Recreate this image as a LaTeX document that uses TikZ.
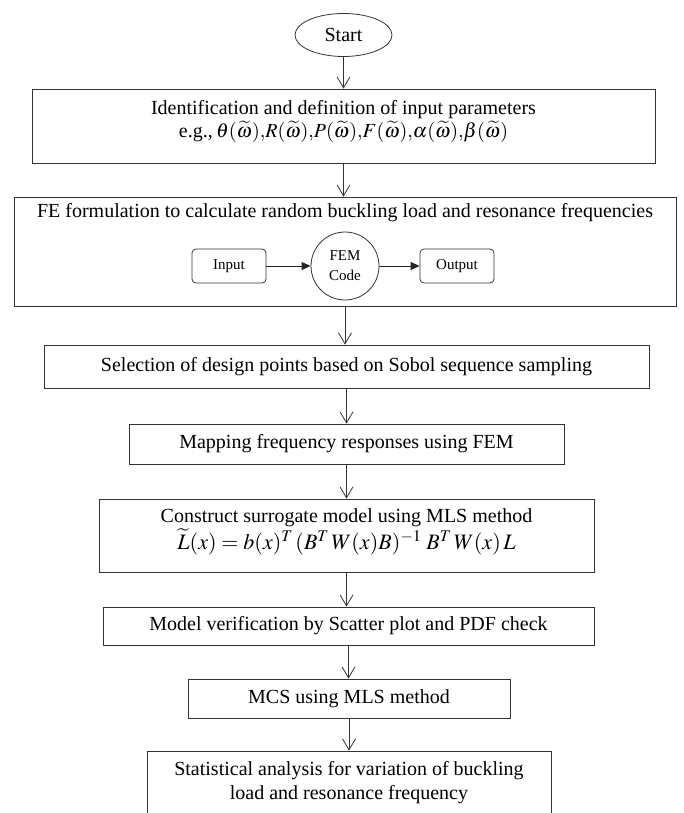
\documentclass[tikz,border=0pt]{standalone}
\usepackage{mathptmx}
\usepackage{fontspec}
\setmainfont{Liberation Serif}
\usetikzlibrary{arrows.meta,shapes.geometric}

\begin{document}
\begin{tikzpicture}[x=1pt,y=-1pt,
  box/.style={draw=black!80, line width=0.8pt, inner sep=0pt, anchor=center},
  lbl/.style={inner sep=0pt, font=\fontsize{20}{22}\selectfont, align=center},
  arr/.style={draw=black!80, line width=0.8pt, -{Straight Barb[length=11pt,width=13pt,line width=0.8pt]}},
  small/.style={draw=black!80, line width=0.8pt, rounded corners=4pt, minimum width=74pt, minimum height=34pt, inner sep=0pt, font=\fontsize{15}{16}\selectfont},
  tri/.style={draw=black!85, line width=0.9pt, -{Triangle[length=9pt,width=8pt]}}
]
\useasboundingbox (0,0) rectangle (683,813);
\clip (0,0) rectangle (683,813);

\node[box, ellipse, minimum width=97pt, minimum height=43pt, font=\fontsize{20}{24}\selectfont] (start) at (343.5,35) {Start};

\node[box, minimum width=623pt, minimum height=74pt] (b1) at (343.5,126) {};
\node[lbl] (b1t) at (343.5,121) {Identification and definition of input parameters\\[1pt]
e.g.,\,$\theta(\widetilde{\omega}){,}R(\widetilde{\omega}){,}P(\widetilde{\omega}){,}F(\widetilde{\omega}){,}\alpha(\widetilde{\omega}){,}\beta(\widetilde{\omega})$};

\node[box, minimum width=662pt, minimum height=109pt] (b2) at (345,251.5) {};
\node[lbl] (b2t) at (345,213) {FE formulation to calculate random buckling load and resonance frequencies};
\node[small] (inp) at (229,266) {Input};
\node[box, circle, minimum size=68pt, align=center, font=\fontsize{15}{20}\selectfont] (fem) at (345,266) {FEM\\Code};
\node[small] (out) at (457,266) {Output};
\draw[tri] (inp) -- (fem);
\draw[tri] (fem) -- (out);

\node[box, minimum width=605pt, minimum height=43pt, font=\fontsize{20}{24}\selectfont] (b3) at (346.5,366.5) {Selection of design points based on Sobol sequence sampling};
\node[box, minimum width=435pt, minimum height=40pt, font=\fontsize{20}{24}\selectfont] (b4) at (346.5,444) {Mapping frequency responses using FEM};

\node[box, minimum width=495pt, minimum height=73pt] (b5) at (346.5,535.5) {};
\node[lbl] (b5t) at (346.5,532) {Construct surrogate model using MLS method\\[1pt]
{\fontsize{22}{24}\selectfont $\widetilde{L}(x) = b(x)^{T}\,(B^{T}\,W(x)B)^{-1}\;B^{T}\,W(x)\,L$}};

\node[box, minimum width=491pt, minimum height=38pt, font=\fontsize{20}{24}\selectfont] (b6) at (348.5,626) {Model verification by Scatter plot and PDF check};
\node[box, minimum width=322pt, minimum height=39pt, font=\fontsize{20}{24}\selectfont] (b7) at (349,698.5) {MCS using MLS method};

\node[box, minimum width=404pt, minimum height=79pt] (b8) at (349,790.5) {};
\node[lbl, font=\fontsize{20}{24}\selectfont] (b8t) at (349,783) {Statistical analysis for variation of buckling\\load and resonance frequency};

\draw[arr] (start.south) -- (start.south |- b1.north);
\draw[arr] (b1.south) -- (b1.south |- b2.north);
\draw[arr] (b2.south) -- (b2.south |- b3.north);
\draw[arr] (b3.south) -- (b3.south |- b4.north);
\draw[arr] (b4.south) -- (b4.south |- b5.north);
\draw[arr] (b5.south) -- (b5.south |- b6.north);
\draw[arr] (b6.south) -- (b6.south |- b7.north);
\draw[arr] (b7.south) -- (b7.south |- b8.north);
\end{tikzpicture}
\end{document}
